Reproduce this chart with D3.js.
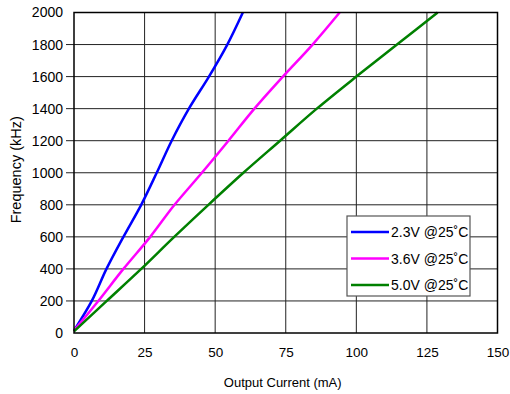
<!DOCTYPE html>
<html><head><meta charset="utf-8">
<script src="https://cdn.jsdelivr.net/npm/d3@7"></script>
<style>body{margin:0;background:#fff}svg{display:block;font-family:"Liberation Sans",Arial,sans-serif}</style>
</head><body><svg id="c" width="510" height="394"></svg>
<script>
const xTicks = [0, 25, 50, 75, 100, 125, 150];
const yTicks = [0, 200, 400, 600, 800, 1000, 1200, 1400, 1600, 1800, 2000];
const seriesNames = ["2.3V @25˚C", "3.6V @25˚C", "5.0V @25˚C"];
const seriesColors = ["#0000ff", "#ff00ff", "#008000"];
const current23 = [0, 6.3, 11.5, 17.5, 23.8, 29.3, 34.6, 40.7, 47.8, 54.3, 59.8];
const freq23 = [15, 200, 400, 600, 800, 1000, 1200, 1400, 1600, 1800, 2000];
const current36 = [0, 8.6, 17.5, 27.0, 35.6, 45.3, 54.7, 63.9, 74.0, 84.5, 94.1];
const freq36 = [15, 200, 400, 600, 800, 1000, 1200, 1400, 1600, 1800, 2000];
const current50 = [0, 11.6, 23.8, 35.5, 47.6, 60.0, 73.0, 86.0, 100.0, 114.4, 128.8];
const freq50 = [10, 200, 400, 600, 800, 1000, 1200, 1400, 1600, 1800, 2000];

const svg = d3.select("#c");
const L = 74, R = 497.5, T = 12.5, B = 333;
const x = d3.scaleLinear().domain([0, 150]).range([L, R]);
const y = d3.scaleLinear().domain([0, 2000]).range([B, T]);

// grid
const g = svg.append("g");
g.selectAll(".vg").data(xTicks.slice(1, -1)).join("line")
  .attr("x1", d => x(d)).attr("x2", d => x(d)).attr("y1", T).attr("y2", B)
  .attr("stroke", "#222").attr("stroke-width", 1);
g.selectAll(".hg").data(yTicks.slice(1, -1)).join("line")
  .attr("x1", L - 8).attr("x2", R).attr("y1", d => y(d)).attr("y2", d => y(d))
  .attr("stroke", "#222").attr("stroke-width", 1);

// axes labels via d3 axes (lines hidden)
const xa = svg.append("g").attr("transform", `translate(0,${B})`)
  .call(d3.axisBottom(x).tickValues(xTicks).tickFormat(d3.format("d")).tickSize(0).tickPadding(14));
const ya = svg.append("g").attr("transform", `translate(${L},0)`)
  .call(d3.axisLeft(y).tickValues(yTicks).tickFormat(d3.format("d")).tickSize(0).tickPadding(11));
[xa, ya].forEach(a => {
  a.select(".domain").remove();
  a.selectAll("text").attr("fill", "#000")
   .attr("font-family", "'Liberation Sans', Arial, sans-serif");
});
xa.selectAll("text").attr("font-size", 13.5);
ya.selectAll("text").attr("font-size", 14);

// lines
const line = d3.line().x(d => x(d[0])).y(d => y(d[1])).curve(d3.curveMonotoneY);
const data = [
  d3.zip(current23, freq23),
  d3.zip(current36, freq36),
  d3.zip(current50, freq50)
];
svg.append("g").selectAll("path").data(data).join("path")
  .attr("d", line).attr("fill", "none")
  .attr("stroke", (d, i) => seriesColors[i]).attr("stroke-width", 2.5)
  .attr("stroke-linejoin", "round");

// border
svg.append("rect").attr("x", L).attr("y", T).attr("width", R - L).attr("height", B - T)
  .attr("fill", "none").attr("stroke", "#000").attr("stroke-width", 1.5);

// legend
const lg = svg.append("g");
lg.append("rect").attr("x", 347).attr("y", 216).attr("width", 123).attr("height", 80)
  .attr("fill", "#fff").attr("stroke", "#555").attr("stroke-width", 1.2);
seriesNames.forEach((n, i) => {
  const yy = 232 + i * 26.5;
  lg.append("line").attr("x1", 351).attr("x2", 389).attr("y1", yy).attr("y2", yy)
    .attr("stroke", seriesColors[i]).attr("stroke-width", 2.5);
  lg.append("text").attr("x", 391).attr("y", yy + 5).attr("font-size", 14).text(n);
});

// axis titles
svg.append("text").attr("x", (L + R) / 2 - 3).attr("y", 387).attr("text-anchor", "middle")
  .attr("font-size", 13).text("Output Current (mA)");
svg.append("text").attr("transform", `translate(21,${(T + B) / 2 - 3}) rotate(-90)`)
  .attr("text-anchor", "middle").attr("font-size", 14.5).text("Frequency (kHz)");
</script></body></html>
